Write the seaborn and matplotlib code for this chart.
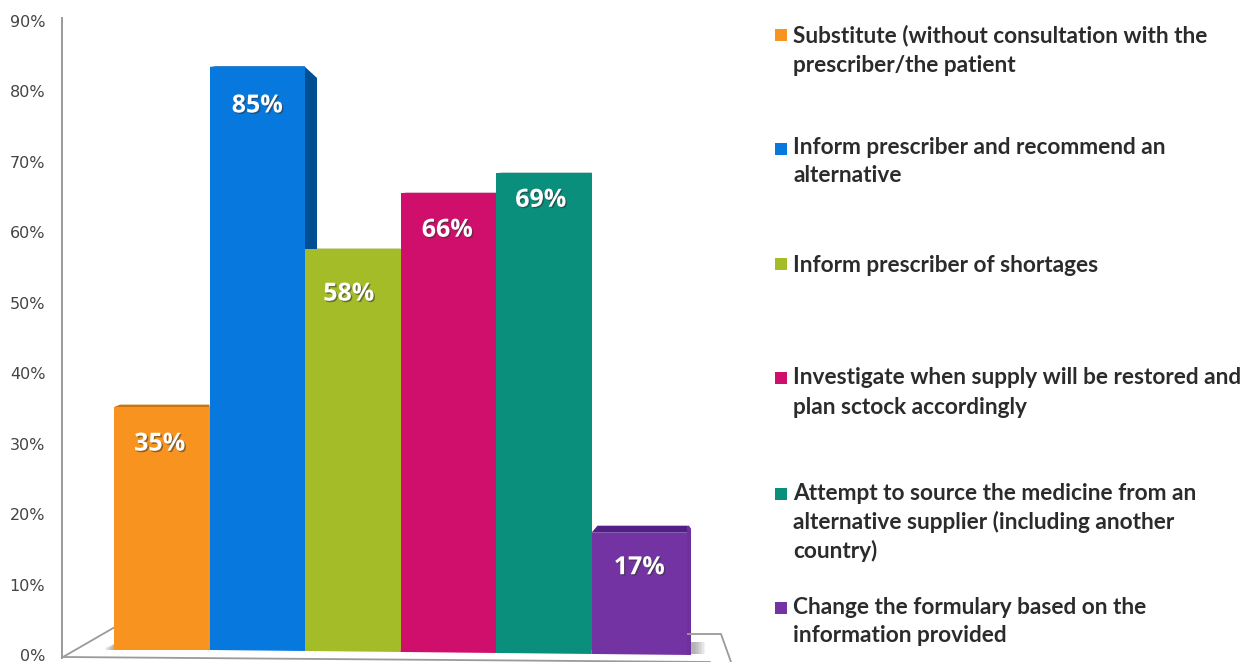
import numpy as np
import pandas as pd
import seaborn as sns
import matplotlib.pyplot as plt
import matplotlib.patheffects as pe
from matplotlib.patches import Polygon

# Data
answers = [
    'Substitute (without consultation with the\nprescriber/the patient',
    'Inform prescriber and recommend an\nalternative',
    'Inform prescriber of shortages',
    'Investigate when supply will be restored and\nplan sctock accordingly',
    'Attempt to source the medicine from an\nalternative supplier (including another\ncountry)',
    'Change the formulary based on the\ninformation provided',
]
percent = [35, 85, 58, 66, 69, 17]
# the blue bar is drawn a little shorter than its label says
bar_height = [35.2, 84.5, 58.1, 66.2, 69.1, 17]
wall_ticks = [0, 10, 20, 30, 40, 50, 60, 70, 80, 90]

colors = ['#F7931E', '#0779DE', '#A5BC29', '#CF0F6B', '#0A8F7D', '#7433A3']
W, H = 1257, 662
df = pd.DataFrame({'answer': answers, 'height': bar_height})

sns.set_theme(style='white')
plt.rcParams['font.family'] = ['Open Sans', 'DejaVu Sans']


def px_box(left, right, top, bottom):
    return [left / W, 1 - bottom / H, (right - left) / W, (bottom - top) / H]


fig = plt.figure(figsize=(W / 100, H / 100), dpi=100, facecolor='white')

# Back wall with its own scale, the 3D floor sits a bit above the 0% label
wall = fig.add_axes(px_box(62, 400, 18, 658))
wall.set_ylim(-0.43, 90.43)
wall.set_yticks(wall_ticks)
wall.set_yticklabels([f'{t}%' for t in wall_ticks], family='DejaVu Sans', fontsize=11.5, color='#444444')
wall.set_xticks([])
wall.tick_params(axis='y', length=0, pad=12)
sns.despine(ax=wall, top=True, right=True, bottom=True)
wall.spines['left'].set_color('#9a9a9a')
wall.spines['left'].set_linewidth(1.4)
wall.patch.set_alpha(0)

# Pixel overlay for the floor, bar depth and legend squares
deco = fig.add_axes([0, 0, 1, 1], zorder=0)
deco.set_xlim(0, W)
deco.set_ylim(H, 0)
deco.axis('off')
deco.plot([63, 115, 692, 721, 731], [657, 627, 634, 634, 662], color='#9a9a9a', lw=1.3)
deco.plot([63, 710], [657, 662], color='#9a9a9a', lw=1.3)
# soft shadows next to the bars
for i in range(8):
    deco.add_patch(Polygon([[691, 642], [691 + 12 * (8 - i) / 8 + 2, 642], [691 + 12 * (8 - i) / 8 + 2, 654], [691, 654]],
                           color='#777777', alpha=0.09, lw=0))
    deco.add_patch(Polygon([[114, 644], [114 - 9 * (8 - i) / 8, 648], [114 - 9 * (8 - i) / 8, 650], [114, 650]],
                           color='#777777', alpha=0.09, lw=0))

# Bars
ax = fig.add_axes(px_box(114, 687, 650 - 6.9 * 90, 650), zorder=2)
sns.barplot(data=df, x='answer', y='height', hue='answer', palette=colors,
            width=1, dodge=False, legend=False, saturation=1, ax=ax, linewidth=0)
ax.set_xlim(-0.5, 5.5)
ax.set_ylim(0, 90)
ax.axis('off')

bars = list(ax.patches)[:len(percent)]
inv = deco.transData.inverted()


def to_px(x, y):
    return inv.transform(ax.transData.transform((x, y)))


# top faces and value labels
dark = ['#C9740F', '#0568BE', '#8C9F1E', '#A50B55', '#077466', '#531F86']
top_rise = [2.5, 0.8, 0.5, 0.5, 0.5, 7]
label_shift = [(-2, -37), (0, -39), (-4, -45), (-1, -37), (-3, -27), (0, -35)]
for bar, c, rise, val, (dx, dy) in zip(bars, dark, top_rise, percent, label_shift):
    (x0, y0) = to_px(bar.get_x(), bar.get_height())
    (x1, _) = to_px(bar.get_x() + bar.get_width(), bar.get_height())
    deco.add_patch(Polygon([[x0, y0], [x0 + 6, y0 - rise], [x1, y0 - rise], [x1, y0]], color=c, lw=0))
    ax.annotate(f'{val}%', (bar.get_x() + bar.get_width() / 2, bar.get_height()),
                xytext=(dx * 0.72, dy * 0.72), textcoords='offset points',
                ha='center', va='center', color='white', fontsize=18, fontweight='bold',
                path_effects=[pe.withSimplePatchShadow(offset=(1, -1), shadow_rgbFace='#333333', alpha=0.55)])

# right side of the tall blue bar
(bx, by) = to_px(bars[1].get_x() + bars[1].get_width(), bars[1].get_height())
(_, gy) = to_px(bars[2].get_x(), bars[2].get_height())
deco.add_patch(Polygon([[bx, by], [bx + 12, by + 11], [bx + 12, gy], [bx, gy]], color='#004F93', lw=0))

# narrow visible side of the last bar
(px0, py0) = to_px(bars[5].get_x() + bars[5].get_width(), bars[5].get_height())
deco.add_patch(Polygon([[px0, py0 - 7], [px0 + 2, py0 - 7], [px0 + 4, py0 - 4], [px0 + 4, 655], [px0, 655]], color='#6F309E', lw=0))

# bar feet follow the slanted floor
for bar, c in zip(bars, colors):
    (x0, y0) = to_px(bar.get_x(), 0)
    (x1, _) = to_px(bar.get_x() + bar.get_width(), 0)
    foot0 = 649 + (x0 - 114) / 577 * 6
    foot1 = 649 + (x1 - 114) / 577 * 6
    deco.add_patch(Polygon([[x0, y0 - 1], [x1, y0 - 1], [x1, foot1], [x0, foot0]], color=c, lw=0))

# Legend on the right, gaps are uneven in the source so each entry is placed by hand
legend_y = [36, 147, 265, 378, 493, 607]
square_y = [35, 149, 264, 378, 494, 608]
for label, c, y, sq in zip(answers, colors, legend_y, square_y):
    deco.add_patch(plt.Rectangle((775, sq - 6), 12, 12, color=c, lw=0))
    for i, line in enumerate(label.split('\n')):
        deco.text(793, y + i * 29, line, va='center', ha='left', fontsize=16.3, family='Lato',
                  fontweight='bold', color='#2b2b2b')

fig.savefig('out.png', dpi=100)
